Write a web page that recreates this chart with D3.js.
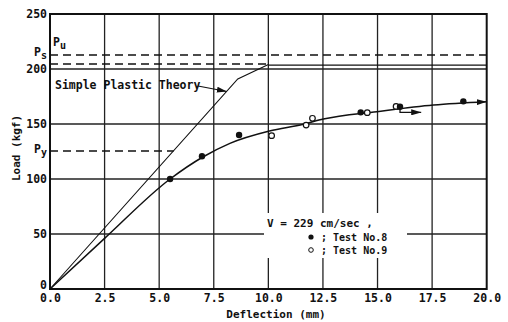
<!DOCTYPE html>
<html><head><meta charset="utf-8">
<script src="https://cdn.jsdelivr.net/npm/d3@7"></script>
<style>body{margin:0;background:#fff}svg{display:block}text{font-family:"DejaVu Sans Mono",monospace;font-weight:bold;fill:#111}</style>
</head><body><svg id="c" width="508" height="322"></svg>
<script>
const xTicks = [0, 2.5, 5, 7.5, 10, 12.5, 15, 17.5, 20];
const xTickLabels = ["0.0","2.5","5.0","7.5","10.0","12.5","15.0","17.5","20.0"];
const yTicks = [0, 50, 100, 150, 200, 250];
const yTickLabels = ["0","50","100","150","200","250"];
const theoryLine = [[0,0],[8.6,191],[10.0,204]];
const theoryPlateau = [[10.0,203.5],[20,203.5]];
const PsLoad = 212.7, PuLoad = 204.5, PyLoad = 125.5;
const PuEnd = 10.0, PyEnd = 5.66;
const testCurve = [[0,0],[2.5,46],[5.5,100],[7,120],[8.24,132.4],[10.05,143.6],[11.6,149.7],[12.52,154.5],[14.97,161.2],[17.56,167.3],[20,170.3]];
const test8 = [[5.5,100],[6.96,120.7],[8.66,140],[14.23,160.6],[16.03,165.7],[18.93,170.6]];
const test9 = [[10.15,139.4],[11.73,149],[12.02,155.2],[14.53,160.3],[15.85,166]];
const sideArrow = [[16.03,165.7],[16.03,160.6],[17.0,160.6]];

const svg = d3.select("#c");
const x = d3.scaleLinear().domain([0,20]).range([50,486.7]);
const y = d3.scaleLinear().domain([0,250]).range([289,14]);
const ink = "#111";

const defs = svg.append("defs");
defs.append("marker").attr("id","ah").attr("viewBox","0 0 10 6").attr("refX",10).attr("refY",3)
  .attr("markerWidth",10).attr("markerHeight",6).attr("markerUnits","userSpaceOnUse").attr("orient","auto")
  .append("path").attr("d","M0,0L10,3L0,6Z").attr("fill",ink);

// grid
const g = svg.append("g");
g.selectAll(".vg").data(xTicks.slice(1,-1)).enter().append("line")
  .attr("x1",d=>x(d)).attr("x2",d=>x(d)).attr("y1",y(250)).attr("y2",y(0))
  .attr("stroke","#222").attr("stroke-width",1.3);
g.selectAll(".hg").data(yTicks.slice(1,-1)).enter().append("line")
  .attr("x1",x(0)).attr("x2",x(20)).attr("y1",d=>y(d)).attr("y2",d=>y(d))
  .attr("stroke","#222").attr("stroke-width",1.3);

// axes (tick labels via d3 axis)
const xAxis = d3.axisBottom(x).tickValues(xTicks).tickFormat((d,i)=>xTickLabels[i]).tickSize(0).tickPadding(5);
const ax = svg.append("g").attr("transform",`translate(0,${y(0)})`).call(xAxis);
ax.select(".domain").remove();
ax.selectAll("text").attr("font-size",11.5).style("font-family","DejaVu Sans Mono").attr("fill",ink);
const yAxis = d3.axisLeft(y).tickValues(yTicks).tickFormat((d,i)=>yTickLabels[i]).tickSize(0).tickPadding(3);
const ay = svg.append("g").attr("transform",`translate(${x(0)},0)`).call(yAxis);
ay.select(".domain").remove();
ay.selectAll("text").attr("font-size",11.5).style("font-family","DejaVu Sans Mono").attr("fill",ink)
  .attr("dy",(d)=> d===0 ? "-0.05em" : "0.32em");

// frame
svg.append("rect").attr("x",x(0)).attr("y",y(250)).attr("width",x(20)-x(0)).attr("height",y(0)-y(250))
  .attr("fill","none").attr("stroke",ink).attr("stroke-width",2);

// reference lines
svg.append("line").attr("x1",x(0)).attr("x2",x(20)).attr("y1",y(PsLoad)).attr("y2",y(PsLoad))
  .attr("stroke",ink).attr("stroke-width",1.4).attr("stroke-dasharray","8,5");
svg.append("line").attr("x1",x(0)).attr("x2",x(PuEnd)).attr("y1",y(PuLoad)).attr("y2",y(PuLoad))
  .attr("stroke",ink).attr("stroke-width",1.4).attr("stroke-dasharray","8,5");
svg.append("line").attr("x1",x(0)).attr("x2",x(PyEnd)).attr("y1",y(PyLoad)).attr("y2",y(PyLoad))
  .attr("stroke",ink).attr("stroke-width",1.4).attr("stroke-dasharray","8,5");

const line = d3.line().x(d=>x(d[0])).y(d=>y(d[1]));
svg.append("path").attr("d",line(theoryLine)).attr("fill","none").attr("stroke",ink).attr("stroke-width",1.1);
svg.append("path").attr("d",line(theoryPlateau)).attr("fill","none").attr("stroke",ink).attr("stroke-width",1.4);

// legend box (white)
svg.append("rect").attr("x",264).attr("y",213).attr("width",143).attr("height",45).attr("fill","#fff");

// test curve
const cl = d3.line().x(d=>x(d[0])).y(d=>y(d[1])).curve(d3.curveMonotoneX);
svg.append("path").attr("d",cl(testCurve)).attr("fill","none").attr("stroke",ink).attr("stroke-width",1.5)
  .attr("marker-end","url(#ah)");
svg.append("path").attr("d",line(sideArrow)).attr("fill","none").attr("stroke",ink).attr("stroke-width",1.3)
  .attr("marker-end","url(#ah)");

svg.selectAll(".t9").data(test9).enter().append("circle")
  .attr("cx",d=>x(d[0])).attr("cy",d=>y(d[1])).attr("r",2.8).attr("fill","#fff").attr("stroke",ink).attr("stroke-width",1.2);
svg.selectAll(".t8").data(test8).enter().append("circle")
  .attr("cx",d=>x(d[0])).attr("cy",d=>y(d[1])).attr("r",3.2).attr("fill",ink);

// annotation
svg.append("text").attr("x",55).attr("y",89).attr("font-size",11.5).text("Simple Plastic Theory");
svg.append("line").attr("x1",198).attr("y1",86).attr("x2",x(8.1)).attr("y2",y(179.5))
  .attr("stroke",ink).attr("stroke-width",1.1).attr("marker-end","url(#ah)");

// P labels
function plabel(px, py, sub){
  const t = svg.append("text").attr("x",px).attr("y",py).attr("font-size",11.5);
  t.append("tspan").text("P");
  t.append("tspan").attr("dy",3).attr("font-size",10).text(sub);
}
plabel(53, 46, "u");
plabel(34, 56, "s");
plabel(34, 153, "y");

// legend
svg.append("text").attr("x",267).attr("y",227).attr("font-size",11).text("V = 229 cm/sec ,");
svg.append("circle").attr("cx",311).attr("cy",237).attr("r",2.6).attr("fill",ink);
svg.append("text").attr("x",321).attr("y",240.5).attr("font-size",10).text("; Test No.8");
svg.append("circle").attr("cx",311).attr("cy",250).attr("r",2.3).attr("fill","#fff").attr("stroke",ink).attr("stroke-width",1);
svg.append("text").attr("x",321).attr("y",253.5).attr("font-size",10).text("; Test No.9");

// axis titles
svg.append("text").attr("x",276).attr("y",318).attr("text-anchor","middle").attr("font-size",11).text("Deflection (mm)");
svg.append("text").attr("transform","translate(20,148) rotate(-90)").attr("text-anchor","middle").attr("font-size",11).text("Load (kgf)");
</script></body></html>
